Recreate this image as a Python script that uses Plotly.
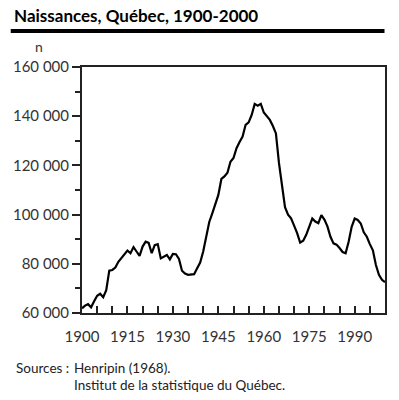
import plotly.graph_objects as go

years = list(range(1900, 2001))
births = [
    61900, 63000, 63600, 62300, 64800, 67000, 67800, 66400, 69300, 77200,
    77500, 78500, 80800, 82500, 84200, 85400, 84300, 86800, 85000, 83200,
    87000, 89000, 88500, 84300, 87600, 88000, 82200, 83000, 83600, 81800,
    84000, 83900, 82000, 77200, 76000, 75500, 75600, 75800, 78200, 80500,
    85000, 91000, 97000, 100500, 104000, 108000, 114500, 115500, 117000, 121500,
    123000, 127000, 129500, 131700, 136500, 137500, 140500, 145000, 144300, 145000,
    141500, 139800, 138500, 136000, 133000, 121000, 111000, 103000, 100000, 98500,
    95500, 92500, 88600, 89400, 91800, 95500, 98400, 97200, 96500, 99800,
    98000, 95200, 91000, 88300, 87800, 86400, 84800, 84300, 89000, 95000,
    98400, 97800, 96400, 92800, 91000, 88000, 85500, 79500, 75500, 73500,
    72500,
]
y_ticks = [60000, 80000, 100000, 120000, 140000, 160000]
y_labels = ["60 000", "80 000", "100 000", "120 000", "140 000", "160 000"]
x_ticks = [1900, 1915, 1930, 1945, 1960, 1975, 1990]

FONT = "Lato"

fig = go.Figure()
fig.add_trace(go.Scatter(x=years, y=births, mode="lines",
                         line=dict(color="black", width=2.2), hoverinfo="skip"))

fig.update_layout(
    width=399, height=400,
    margin=dict(l=81.5, r=13.5, t=66.5, b=87),
    paper_bgcolor="white", plot_bgcolor="white",
    showlegend=False,
    font=dict(family=FONT, color="#222", size=15),
    xaxis=dict(range=[1900, 2000], tickvals=x_ticks, ticks="inside", ticklen=7,
               tickwidth=1.5, tickcolor="#222", ticklabelstandoff=9,
               minor=dict(dtick=5, tick0=1900, ticks="inside", ticklen=7,
                          tickwidth=1.5, tickcolor="#222"),
               showline=True, linecolor="#222", linewidth=2, mirror=True,
               showgrid=False, zeroline=False,
               tickfont=dict(family=FONT, size=15, color="#333")),
    yaxis=dict(range=[60000, 160000], tickvals=y_ticks, ticktext=y_labels,
               ticks="outside", ticklen=8, tickwidth=1.5, tickcolor="#222",
               minor=dict(dtick=10000, tick0=60000, ticks="outside", ticklen=5,
                          tickwidth=1.5, tickcolor="#222"),
               showline=True, linecolor="#222", linewidth=2, mirror=True,
               showgrid=False, zeroline=False,
               tickfont=dict(family=FONT, size=15, color="#333")),
)


def px_to_paper(px, py):
    return (px - 81.5) / 304.0, (313 - py) / 246.5


def note(text, px, py, size, xanchor="left", color="#222"):
    ax, ay = px_to_paper(px, py)
    fig.add_annotation(text=text, xref="paper", yref="paper", x=ax, y=ay,
                       xanchor=xanchor, yanchor="middle", showarrow=False,
                       font=dict(family=FONT, size=size, color=color))


note("<b>Naissances, Québec, 1900-2000</b>", 11, 15, 17, color="black")
note("n", 38, 46, 14, xanchor="center", color="#333")
note("Sources :", 13, 368, 13.5)
note("Henripin (1968).", 71, 368, 13.5)
note("Institut de la statistique du Québec.", 71, 385, 13.5)

x0, y0 = px_to_paper(10, 30.5)
x1, _ = px_to_paper(385, 30.5)
fig.add_shape(type="line", xref="paper", yref="paper", x0=x0, x1=x1, y0=y0, y1=y0,
              line=dict(color="black", width=4))

fig.write_html("out.html")
